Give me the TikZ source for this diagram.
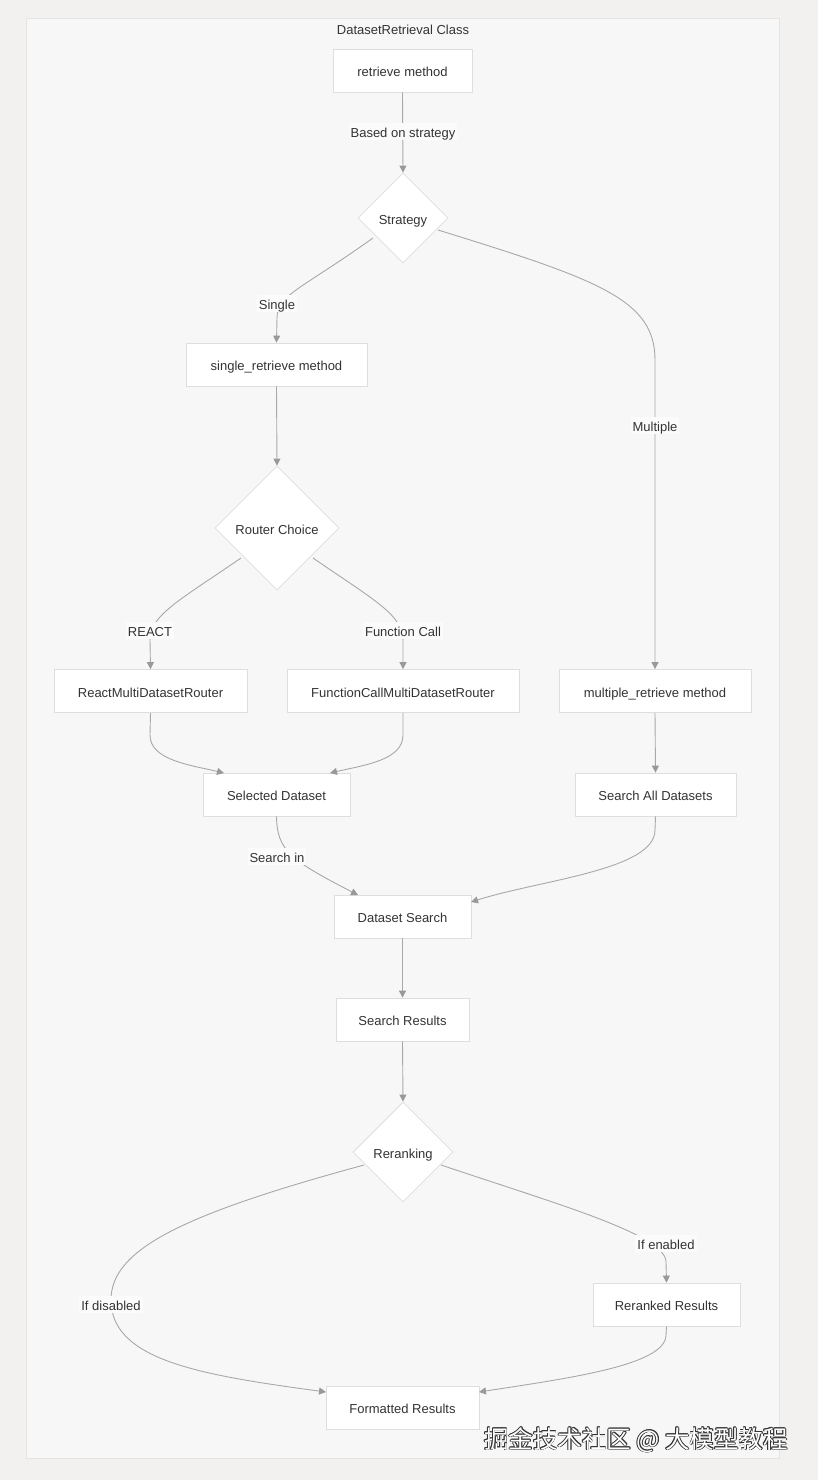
\documentclass[tikz,border=0pt]{standalone}
\usepackage{fontspec}
\setmainfont{Liberation Sans}
\newfontfamily\cjk{Noto Sans CJK SC}
\usetikzlibrary{shapes.geometric,arrows.meta}
\definecolor{outerbg}{HTML}{F2F1F0}
\definecolor{clusterbg}{HTML}{F7F7F7}
\definecolor{clusterline}{HTML}{E4E4E4}
\definecolor{boxline}{HTML}{DEDEDE}
\definecolor{edgecol}{HTML}{A8A8A8}
\definecolor{tipcol}{HTML}{999999}
\definecolor{txt}{HTML}{333333}
\tikzset{
  box/.style={draw=boxline, fill=white, line width=0.8pt, minimum height=43, inner sep=0,
    font=\fontsize{13}{15}\selectfont, text=txt, text height=12.5pt, text depth=0pt},
  dia/.style={diamond, draw=boxline, fill=white, line width=0.8pt, inner sep=0, aspect=1,
    font=\fontsize{13}{15}\selectfont, text=txt, text height=12.5pt, text depth=0pt},
  conn/.style={draw=edgecol, line width=0.9pt, -{Triangle[width=7pt,length=7pt,fill=tipcol,color=tipcol]}},
  elabel/.style={fill=white!55!clusterbg, inner sep=2pt, font=\fontsize{13}{15}\selectfont, text=txt,
    text height=12pt, text depth=1pt},
}
\begin{document}
\begin{tikzpicture}[x=1pt,y=-1pt]
\fill[outerbg] (0,0) rectangle (818,1480);
\useasboundingbox (0,0) rectangle (818,1480);
\draw[clusterline, fill=clusterbg, line width=0.8pt] (26,18) rectangle (779,1458);
\node[font=\fontsize{13}{15}\selectfont, text=txt] (title) at (403,29.5) {DatasetRetrieval Class};

% nodes
\node[box, minimum width=139] (retr) at (402.5,70.5) {retrieve method};
\node[dia, minimum width=90, minimum height=90] (strat) at (403,218) {Strategy};
\node[box, minimum width=181] (single) at (276.5,364.5) {single\_retrieve method};
\node[dia, minimum width=124, minimum height=124] (router) at (277,528) {Router Choice};
\node[box, minimum width=193] (react) at (150.5,691) {ReactMultiDatasetRouter};
\node[box, minimum width=232] (fcall) at (403,691) {FunctionCallMultiDatasetRouter};
\node[box, minimum width=192] (multi) at (655,691) {multiple\_retrieve method};
\node[box, minimum width=147] (sel) at (276.5,794.5) {Selected Dataset};
\node[box, minimum width=161] (sall) at (655.5,794.5) {Search All Datasets};
\node[box, minimum width=137] (dsearch) at (402.5,916.5) {Dataset Search};
\node[box, minimum width=133] (sres) at (402.5,1019.5) {Search Results};
\node[dia, minimum width=100, minimum height=100] (rerank) at (403,1152) {Reranking};
\node[box, minimum width=147] (rres) at (666.5,1304.5) {Reranked Results};
\node[box, minimum width=153] (fres) at (402.5,1407.5) {Formatted Results};

% edges
\draw[conn] (retr.south) -- (strat.north);
\node[elabel] (l1) at (403,131.5) {Based on strategy};

\coordinate (s1) at (373,238);
\draw[conn] (s1) .. controls (300,290) and (277,295) .. (277,318) -- (single.north);
\node[elabel] (l2) at (277,303.5) {Single};

\coordinate (s2) at (438,230);
\draw[conn] (s2) .. controls (600,280) and (655,300) .. (655,360) -- (multi.north);
\node[elabel] (l3) at (655,425.5) {Multiple};

\draw[conn] (single.south) -- (router.north);

\coordinate (r1) at (241,558);
\draw[conn] (r1) .. controls (180,600) and (150,615) .. (150,640) -- (react.north);
\node[elabel] (l4) at (150,630.5) {REACT};

\coordinate (r2) at (313,558);
\draw[conn] (r2) .. controls (374,600) and (403,615) .. (403,640) -- (fcall.north);
\node[elabel] (l5) at (403,630.5) {Function Call};

\coordinate (selw) at (224,773);
\coordinate (sele) at (330,773);
\draw[conn] (react.south) -- (150,735) .. controls (150,760) and (190,765) .. (selw);
\draw[conn] (fcall.south) -- (403,735) .. controls (403,760) and (365,765) .. (sele);

\draw[conn] (multi.south) -- (sall.north);

\coordinate (dsw) at (358,895);
\draw[conn] (sel.south) .. controls (277,850) and (290,860) .. (dsw);
\node[elabel] (l6) at (277,856.5) {Search in};

\coordinate (dse) at (471,902);
\draw[conn] (sall.south) -- (655,830) .. controls (655,870) and (540,880) .. (dse);

\draw[conn] (dsearch.south) -- (sres.north);
\draw[conn] (sres.south) -- (rerank.north);

\coordinate (rk1) at (441,1165);
\draw[conn] (rk1) .. controls (560,1205) and (666,1235) .. (666,1262) -- (rres.north);
\node[elabel] (l7) at (666,1243.5) {If enabled};

\coordinate (rk2) at (364,1165);
\coordinate (frw) at (326,1392);
\draw[conn] (rk2) .. controls (180,1215) and (111,1250) .. (111,1300)
  .. controls (111,1360) and (200,1375) .. (frw);
\node[elabel] (l8) at (111,1304.5) {If disabled};

\coordinate (fre) at (479,1392);
\draw[conn] (rres.south) -- (666,1335) .. controls (666,1365) and (570,1378) .. (fre);

% watermark
\foreach \dx/\dy in {-0.7/0,0.7/0,0/-0.7,0/0.7,-0.5/-0.5,0.5/0.5,-0.5/0.5,0.5/-0.5}{
  \node[font=\cjk\fontsize{24.5}{26}\selectfont, text=black!80, inner sep=0] at (636+\dx,1440+\dy) {掘金技术社区 @ 大模型教程};
}
\node[font=\cjk\fontsize{24.5}{26}\selectfont, text=white, inner sep=0] (wm) at (636,1440) {掘金技术社区 @ 大模型教程};
\end{tikzpicture}
\end{document}
